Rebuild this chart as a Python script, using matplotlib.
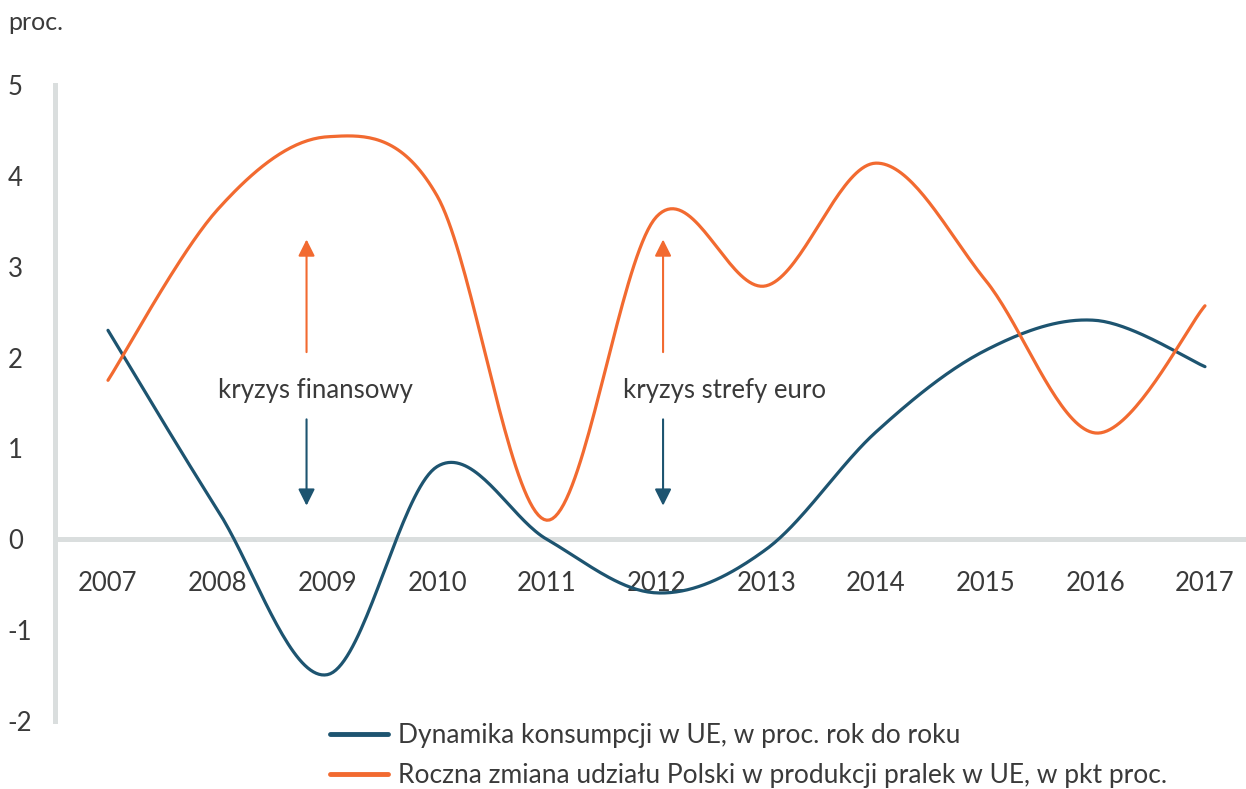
import numpy as np
import matplotlib.pyplot as plt

plt.rcParams['font.family'] = ['Lato', 'DejaVu Sans']
plt.rcParams['axes.unicode_minus'] = False

years = [2007, 2008, 2009, 2010, 2011, 2012, 2013, 2014, 2015, 2016, 2017]
konsumpcja = [2.30, 0.32, -1.49, 0.80, 0.0, -0.59, -0.11, 1.18, 2.08, 2.41, 1.90]
pralki = [1.75, 3.63, 4.43, 3.78, 0.21, 3.55, 2.79, 4.14, 2.85, 1.17, 2.57]

label_konsumpcja = 'Dynamika konsumpcji w UE, w proc. rok do roku'
label_pralki = 'Roczna zmiana udziału Polski w produkcji pralek w UE, w pkt proc.'

BLUE = '#1d5470'
ORANGE = '#f26a30'
GREY = '#dadede'
TEXT = '#3a3a3a'


def smooth(x, y, n=40):
    # Excel-like smoothed line: Catmull-Rom Bezier segments
    x = np.asarray(x, float)
    y = np.asarray(y, float)
    px = np.concatenate([[x[0]], x, [x[-1]]])
    py = np.concatenate([[y[0]], y, [y[-1]]])
    xs, ys = [], []
    t = np.linspace(0, 1, n)
    for i in range(1, len(px) - 2):
        p0 = np.array([px[i], py[i]])
        p3 = np.array([px[i + 1], py[i + 1]])
        c1 = p0 + (np.array([px[i + 1], py[i + 1]]) - np.array([px[i - 1], py[i - 1]])) / 6
        c2 = p3 - (np.array([px[i + 2], py[i + 2]]) - np.array([px[i], py[i]])) / 6
        b = ((1 - t) ** 3)[:, None] * p0 + (3 * (1 - t) ** 2 * t)[:, None] * c1 \
            + (3 * (1 - t) * t ** 2)[:, None] * c2 + (t ** 3)[:, None] * p3
        xs.append(b[:, 0])
        ys.append(b[:, 1])
    return np.concatenate(xs), np.concatenate(ys)


fig = plt.figure(figsize=(12.46, 7.89), dpi=100)
ax = fig.add_axes([55 / 1246, 1 - 721 / 789, 1 - 55 / 1246, (721 - 85) / 789])

sx, sy = smooth(years, konsumpcja)
ax.plot(sx, sy, color=BLUE, lw=2.3, label=label_konsumpcja, solid_capstyle='round')
sx, sy = smooth(years, pralki)
ax.plot(sx, sy, color=ORANGE, lw=2.3, label=label_pralki, solid_capstyle='round')

ax.set_xlim(2006.517, 2017.374)
ax.set_ylim(-2, 5)

for s in ['top', 'right']:
    ax.spines[s].set_visible(False)
ax.spines['bottom'].set_position(('data', 0))
ax.spines['bottom'].set_color(GREY)
ax.spines['bottom'].set_linewidth(3.6)
ax.spines['left'].set_color(GREY)
ax.spines['left'].set_linewidth(3.6)
ax.spines['bottom'].set_zorder(0)

ax.set_xticks(years)
ax.set_xticklabels([str(y) for y in years])
ax.set_yticks(range(-2, 6))
ax.tick_params(axis='x', length=0, pad=22.5, labelsize=18.5, labelcolor=TEXT)
ax.tick_params(axis='y', length=0, pad=34, labelsize=18.5, labelcolor=TEXT)
for lbl in ax.get_yticklabels():
    lbl.set_horizontalalignment('left')

fig.text(8 / 1246, 1 - 22 / 789, 'proc.', fontsize=18, color=TEXT, ha='left', va='center')

# crisis annotations
crises = [('kryzys finansowy', 2008.81, 2008.89), ('kryzys strefy euro', 2012.06, 2012.62)]
for txt, xa, xt in crises:
    ax.text(xt, 1.64, txt, fontsize=18.5, color=TEXT, ha='center', va='center')
    ax.annotate('', xy=(xa, 3.30), xytext=(xa, 2.06),
                arrowprops=dict(arrowstyle='-|>', color=ORANGE, lw=1.5, mutation_scale=25, shrinkA=0, shrinkB=0))
    ax.annotate('', xy=(xa, 0.37), xytext=(xa, 1.32),
                arrowprops=dict(arrowstyle='-|>', color=BLUE, lw=1.5, mutation_scale=25, shrinkA=0, shrinkB=0))

leg = fig.legend(loc='upper left', bbox_to_anchor=(330 / 1246, 1 - 723 / 789), frameon=False,
                 fontsize=19, handlelength=2.2, handletextpad=0.38, labelspacing=0.58,
                 borderaxespad=0, borderpad=0)
for t in leg.get_texts():
    t.set_color(TEXT)
for h in leg.legend_handles:
    h.set_linewidth(3.5)

fig.savefig('out.png', dpi=100)
